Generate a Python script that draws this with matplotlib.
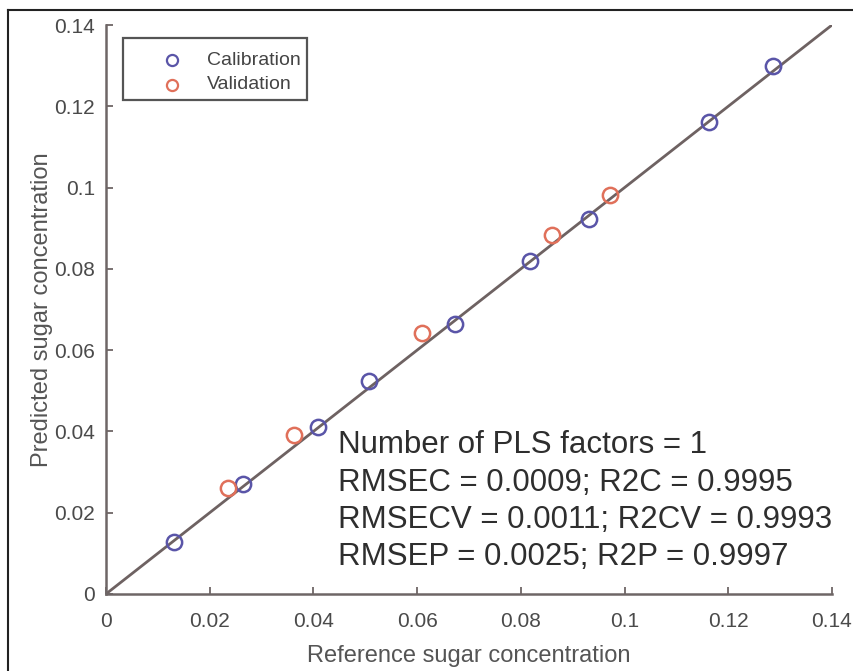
import matplotlib
matplotlib.use('Agg')
import matplotlib.pyplot as plt
from matplotlib.lines import Line2D
from matplotlib.patches import Rectangle

# Calibration and validation samples (reference vs predicted)
cal_ref = [0.0131, 0.0264, 0.0409, 0.0507, 0.0673, 0.0818, 0.0931, 0.1163, 0.1286]
cal_pred = [0.0128, 0.0271, 0.0411, 0.0524, 0.0664, 0.0819, 0.0923, 0.1161, 0.1299]
val_ref = [0.0235, 0.0363, 0.0609, 0.0860, 0.0972]
val_pred = [0.0261, 0.0391, 0.0642, 0.0883, 0.0982]
line_x = [0, 0.14]
ticks = [0, 0.02, 0.04, 0.06, 0.08, 0.1, 0.12, 0.14]
tick_labels = ['0', '0.02', '0.04', '0.06', '0.08', '0.1', '0.12', '0.14']
legend_labels = ['Calibration', 'Validation']
stats = ['Number of PLS factors = 1',
         'RMSEC = 0.0009; R2C = 0.9995',
         'RMSECV = 0.0011; R2CV = 0.9993',
         'RMSEP = 0.0025; R2P = 0.9997']

plt.rcParams['font.family'] = ['Liberation Sans', 'DejaVu Sans']

blue = '#5a55a8'
red = '#e0705a'
axis_gray = '#6e6666'

fig = plt.figure(figsize=(8.54, 6.71), dpi=100)
ax = fig.add_axes([0.1241, 0.1148, 0.8501, 0.8479])

# 1:1 line and samples
ax.plot(line_x, line_x, color='#6e6262', linewidth=2.0, zorder=2)
ax.plot(cal_ref, cal_pred, 'o', mfc='none', mec=blue, mew=1.8, ms=11, zorder=3)
ax.plot(val_ref, val_pred, 'o', mfc='none', mec=red, mew=1.8, ms=11, zorder=3)

ax.set_xlim(0, 0.14)
ax.set_ylim(0, 0.14)
ax.set_xticks(ticks)
ax.set_xticklabels(tick_labels)
ax.set_yticks(ticks)
ax.set_yticklabels(tick_labels)

for side in ['top', 'right']:
    ax.spines[side].set_visible(False)
for side in ['left', 'bottom']:
    ax.spines[side].set_color(axis_gray)
    ax.spines[side].set_linewidth(1.8)
ax.tick_params(direction='in', length=5, width=1.3, colors=axis_gray,
               labelcolor='#4a4a4a', labelsize=15)
ax.tick_params(axis='x', pad=13)
ax.tick_params(axis='y', pad=8)

ax.set_xlabel('Reference sugar concentration', fontsize=17, color='#555555', labelpad=10)
ax.set_ylabel('Predicted sugar concentration', fontsize=17, color='#555555', labelpad=1)

# legend box drawn in axes fraction
ax.add_patch(Rectangle((0.0234, 0.8682), 0.2535, 0.109, transform=ax.transAxes,
                       fill=True, facecolor='white', edgecolor='#555555',
                       linewidth=1.6, zorder=5))
for lab, col, yy in zip(legend_labels, [blue, red], [0.9385, 0.8946]):
    ax.plot([0.0909], [yy], 'o', mfc='none', mec=col, mew=1.6, ms=8,
            transform=ax.transAxes, zorder=6, clip_on=False)
    ax.text(0.1391, yy, lab, transform=ax.transAxes, fontsize=14,
            color='#444444', va='center', ha='left', zorder=6)

# statistics text
for i, s in enumerate(stats):
    ax.text(0.0447, 0.0366 - i * 0.0092, s, fontsize=22.5, color='#2e2e2e',
            va='center', ha='left')

# picture frame (left and top edges)
fig.add_artist(Line2D([0.0094, 0.0094], [0, 0.985], color='#222222', lw=1.5))
fig.add_artist(Line2D([0.0094, 1.0], [0.985, 0.985], color='#222222', lw=1.5))

fig.savefig('out.png', dpi=100)
